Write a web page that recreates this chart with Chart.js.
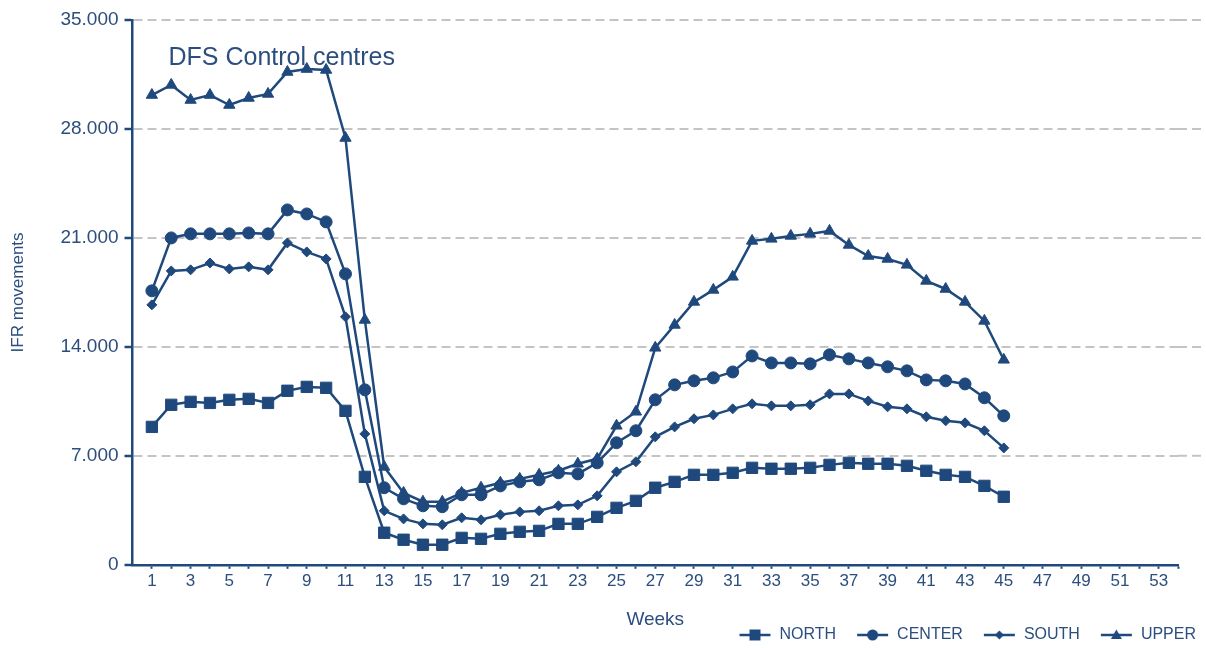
<!DOCTYPE html>
<html>
<head>
<meta charset="utf-8">
<script src="https://cdn.jsdelivr.net/npm/chart.js@4.4.1/dist/chart.umd.min.js"></script>
<style>
  html, body { margin: 0; padding: 0; background: #fff; }
  #wrap { width: 1206px; height: 648px; }
</style>
</head>
<body>
<div id="wrap"><canvas id="DfsChart" width="1206" height="648"></canvas></div>
<script>
let weeks = [1, 2, 3, 4, 5, 6, 7, 8, 9, 10, 11, 12, 13, 14, 15, 16, 17, 18, 19, 20, 21, 22, 23,
    24, 25, 26, 27, 28, 29, 30, 31, 32, 33, 34, 35, 36, 37, 38, 39, 40, 41, 42, 43, 44, 45];

let northValues = [8860, 10280, 10470, 10400, 10600, 10660, 10400, 11180, 11430, 11370, 9890, 5650,
    2060, 1610, 1290, 1290, 1730, 1670, 1990, 2120, 2180, 2630, 2630, 3080, 3660, 4110, 4950,
    5330, 5780, 5780, 5910, 6230, 6170, 6170, 6230, 6420, 6550, 6490, 6490, 6360, 6040, 5780,
    5650, 5070, 4370];

let centerValues = [17600, 21000, 21260, 21260, 21260, 21320, 21260, 22800, 22540, 22030, 18690, 11240,
    4950, 4240, 3790, 3730, 4500, 4500, 5070, 5330, 5460, 5910, 5840, 6550, 7840, 8610, 10600,
    11560, 11820, 12010, 12390, 13420, 12970, 12970, 12910, 13490, 13230, 12970, 12720, 12460,
    11880, 11820, 11620, 10730, 9570];

let southValues = [16700, 18880, 18950, 19390, 19010, 19140, 18950, 20680, 20100, 19650, 15930, 8410,
    3470, 2950, 2630, 2570, 3020, 2890, 3210, 3400, 3470, 3790, 3850, 4430, 5970, 6620, 8220,
    8860, 9380, 9630, 10020, 10340, 10210, 10210, 10280, 10980, 10980, 10530, 10150, 10020,
    9510, 9250, 9120, 8610, 7510];

let upperValues = [30180, 30830, 29860, 30180, 29540, 29990, 30250, 31660, 31850, 31790, 27420, 15730,
    6290, 4620, 4050, 4050, 4620, 4950, 5270, 5520, 5780, 6040, 6490, 6810, 8930, 9830, 13940,
    15410, 16890, 17660, 18500, 20810, 20940, 21130, 21260, 21450, 20550, 19840, 19650, 19270,
    18240, 17720, 16890, 15670, 13170];

let seriesNames = ['NORTH', 'CENTER', 'SOUTH', 'UPPER'];
let seriesMarkers = ['rect', 'circle', 'rectRot', 'triangle'];
let markerRadius = [8, 6, 5, 6.5];

let yTicks = [0, 7000, 14000, 21000, 28000, 35000];
let xTickLabels = [1, 3, 5, 7, 9, 11, 13, 15, 17, 19, 21, 23, 25, 27, 29, 31, 33, 35, 37, 39, 41,
    43, 45, 47, 49, 51, 53];

const lineBlue = '#1F497D';
const textBlue = '#2C4E7E';
const gridGrey = '#C4C4C4';
const gridDash = [9, 5];
const fontName = "'Liberation Sans', Arial, sans-serif";

function ToPoints(values) {
    return values.map(function (v, i) { return { x: weeks[i], y: v }; });
}

function FormatThousands(value) {
    return String(value).replace(/\B(?=(\d{3})+(?!\d))/g, '.');
}

// small picture for the legend: a line with the marker in the middle,
// with some empty room on the left to space the items apart
function LegendIcon(style) {
    let c = document.createElement('canvas');
    c.width = 50;
    c.height = 16;
    let ctx = c.getContext('2d');
    ctx.strokeStyle = lineBlue;
    ctx.fillStyle = lineBlue;
    ctx.lineWidth = 2.5;
    ctx.beginPath();
    ctx.moveTo(18, 8);
    ctx.lineTo(49, 8);
    ctx.stroke();
    ctx.beginPath();
    let cx = 33.5;
    if (style === 'rect') {
        ctx.rect(cx - 5.5, 2.5, 11, 11);
    } else if (style === 'circle') {
        ctx.arc(cx, 8, 5.5, 0, Math.PI * 2);
    } else if (style === 'rectRot') {
        ctx.moveTo(cx, 3.5); ctx.lineTo(cx + 4.5, 8); ctx.lineTo(cx, 12.5); ctx.lineTo(cx - 4.5, 8);
        ctx.closePath();
    } else {
        ctx.moveTo(cx, 2.5); ctx.lineTo(cx + 5.5, 12); ctx.lineTo(cx - 5.5, 12);
        ctx.closePath();
    }
    ctx.fill();
    return c;
}

let allValues = [northValues, centerValues, southValues, upperValues];
let datasets = allValues.map(function (values, i) {
    return {
        label: seriesNames[i],
        data: ToPoints(values),
        borderColor: lineBlue,
        backgroundColor: lineBlue,
        borderWidth: 2.5,
        pointStyle: seriesMarkers[i],
        pointRadius: markerRadius[i],
        pointBorderWidth: 1,
        pointBackgroundColor: lineBlue,
        pointBorderColor: lineBlue,
        tension: 0
    };
});

let innerTitle = {
    id: 'innerTitle',
    afterDraw: function (chart) {
        let ctx = chart.ctx;
        ctx.save();
        ctx.font = '25px ' + fontName;
        ctx.fillStyle = textBlue;
        ctx.textBaseline = 'alphabetic';
        ctx.textAlign = 'left';
        ctx.fillText('DFS Control centres', chart.chartArea.left + 36, 65);
        ctx.restore();
    }
};

// the dashed grid lines run on a little past the end of the week axis
let gridTail = {
    id: 'gridTail',
    beforeDatasetsDraw: function (chart) {
        let ctx = chart.ctx;
        let y = chart.scales.y;
        let right = chart.chartArea.right;
        ctx.save();
        ctx.strokeStyle = gridGrey;
        ctx.lineWidth = 2;
        ctx.setLineDash(gridDash);
        yTicks.forEach(function (v) {
            if (v === 0) return;
            let py = y.getPixelForValue(v);
            ctx.beginPath();
            ctx.moveTo(right, py);
            ctx.lineTo(right + 26, py);
            ctx.stroke();
        });
        ctx.restore();
    }
};

Chart.defaults.font.family = fontName;
Chart.defaults.color = textBlue;

window.dfsChart = new Chart(document.getElementById('DfsChart').getContext('2d'), {
    type: 'line',
    data: { datasets: datasets },
    plugins: [innerTitle, gridTail],
    options: {
        responsive: false,
        animation: false,
        layout: { padding: { top: 20, right: 7, left: 8, bottom: -5 } },
        plugins: {
            tooltip: { enabled: false },
            legend: {
                position: 'bottom',
                align: 'end',
                labels: {
                    usePointStyle: true,
                    pointStyleWidth: 50,
                    padding: 3,
                    color: textBlue,
                    font: { size: 16 },
                    generateLabels: function (chart) {
                        return chart.data.datasets.map(function (ds, i) {
                            return {
                                text: ds.label,
                                pointStyle: LegendIcon(seriesMarkers[i]),
                                fillStyle: lineBlue,
                                strokeStyle: lineBlue,
                                lineWidth: 0,
                                fontColor: textBlue,
                                datasetIndex: i
                            };
                        });
                    }
                }
            }
        },
        scales: {
            x: {
                type: 'linear',
                min: 0,
                max: 54,
                afterBuildTicks: function (scale) {
                    let t = [];
                    for (let w = 1; w <= 54; w++) t.push({ value: w });
                    scale.ticks = t;
                },
                afterFit: function (scale) {
                    scale.paddingLeft = 0;
                    scale.paddingRight = 0;
                },
                ticks: {
                    autoSkip: false,
                    maxRotation: 0,
                    padding: 2,
                    color: textBlue,
                    font: { size: 17 },
                    callback: function (value) {
                        return xTickLabels.indexOf(value) >= 0 ? String(value) : '';
                    }
                },
                grid: {
                    drawOnChartArea: false,
                    drawTicks: true,
                    tickLength: 4,
                    tickColor: lineBlue,
                    tickWidth: 2
                },
                border: { display: true, color: lineBlue, width: 2.5 },
                title: {
                    display: true,
                    text: 'Weeks',
                    color: textBlue,
                    font: { size: 19 },
                    padding: { top: 15, bottom: -7 }
                }
            },
            y: {
                min: 0,
                max: 35000,
                afterBuildTicks: function (scale) {
                    scale.ticks = yTicks.map(function (v) { return { value: v }; });
                },
                afterFit: function (scale) {
                    scale.paddingTop = 0;
                    scale.paddingBottom = 0;
                },
                ticks: {
                    padding: 6,
                    color: textBlue,
                    font: { size: 19 },
                    callback: function (value) { return FormatThousands(value); }
                },
                grid: {
                    color: gridGrey,
                    lineWidth: 2,
                    drawTicks: true,
                    tickLength: 8,
                    tickColor: lineBlue,
                    tickWidth: 2.5,
                    tickBorderDash: []
                },
                border: { display: true, color: lineBlue, width: 2.5, dash: gridDash },
                title: {
                    display: true,
                    text: 'IFR movements',
                    color: textBlue,
                    font: { size: 17 },
                    padding: { top: 0, bottom: 26 }
                }
            },
            // empty room on the right of the plot, the legend still runs under it
            spare: {
                position: 'right',
                display: true,
                grid: { display: false },
                border: { display: false },
                ticks: { display: false },
                afterFit: function (scale) {
                    scale.width = 21;
                    scale.paddingTop = 0;
                    scale.paddingBottom = 0;
                }
            }
        }
    }
});
</script>
</body>
</html>
